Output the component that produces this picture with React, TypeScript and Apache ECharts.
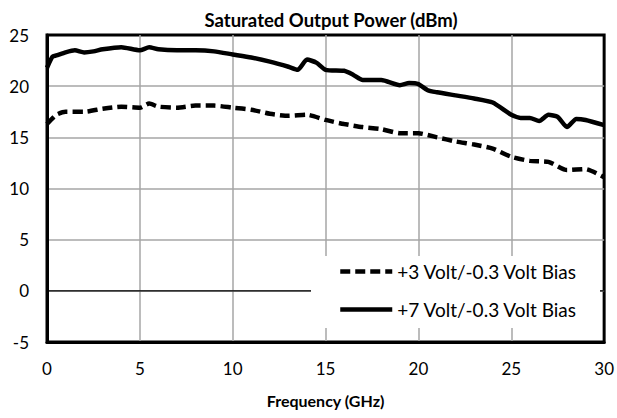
import React, { useEffect, useRef } from "react";
import * as echarts from "echarts";

const freq7 = [0, 0.3, 0.5, 1, 1.5, 2, 2.5, 3, 4, 5, 5.5, 6, 7, 8, 9, 10, 11, 12, 13, 13.5, 14, 14.5, 15, 16, 16.5, 17, 18, 19, 19.5, 20, 20.5, 21, 22, 23, 24, 25, 25.5, 26, 26.5, 27, 27.5, 28, 28.5, 29, 30];
const power7 = [21.8, 22.9, 23.0, 23.3, 23.5, 23.3, 23.4, 23.6, 23.8, 23.5, 23.8, 23.6, 23.5, 23.5, 23.4, 23.1, 22.8, 22.4, 21.9, 21.6, 22.6, 22.3, 21.6, 21.5, 21.1, 20.6, 20.6, 20.1, 20.3, 20.2, 19.6, 19.4, 19.1, 18.8, 18.4, 17.2, 16.9, 16.9, 16.6, 17.2, 17.0, 16.0, 16.8, 16.7, 16.2];

const freq3 = [0, 0.5, 1, 2, 3, 4, 5, 5.5, 6, 7, 8, 9, 10, 11, 12, 13, 14, 15, 16, 17, 18, 19, 20, 21, 22, 23, 24, 25, 26, 27, 28, 29, 30];
const power3 = [16.3, 17.2, 17.5, 17.5, 17.8, 18.0, 17.9, 18.3, 18.0, 17.9, 18.1, 18.1, 17.9, 17.7, 17.3, 17.1, 17.2, 16.7, 16.3, 16.0, 15.8, 15.4, 15.4, 15.0, 14.6, 14.3, 13.9, 13.1, 12.7, 12.6, 11.8, 11.9, 11.1];

const zeroLine = [[0, 0], [30, 0]];

const seriesNames = ["+3 Volt/-0.3 Volt Bias", "+7 Volt/-0.3 Volt Bias"];
const titleText = "Saturated Output Power (dBm)";
const xName = "Frequency (GHz)";

const FONT = "Lato, 'Open Sans', sans-serif";

export default function App() {
  const ref = useRef<HTMLDivElement>(null);
  useEffect(() => {
    if (!ref.current) return;
    const chart = echarts.init(ref.current, null, { renderer: "svg" });
    const pair = (xs: number[], ys: number[]) => xs.map((x, i) => [x, ys[i]]);
    chart.setOption({
      animation: false,
      textStyle: { fontFamily: FONT },
      title: {
        text: titleText,
        left: 326,
        top: 5,
        textAlign: "center",
        textStyle: { fontFamily: FONT, fontWeight: "bold", fontSize: 18.5, color: "#000" },
      },
      grid: {
        left: 47,
        right: 12,
        top: 35,
        bottom: 76,
        show: true,
        borderColor: "#000",
        borderWidth: 3,
        backgroundColor: "#fff",
      },
      xAxis: {
        type: "value",
        min: 0,
        max: 30,
        interval: 5,
        name: xName,
        nameLocation: "middle",
        nameGap: 50,
        nameTextStyle: { fontFamily: FONT, fontWeight: "bold", fontSize: 16, color: "#000" },
        axisLine: { show: true, onZero: false, lineStyle: { color: "#000", width: 3 } },
        axisTick: { show: false },
        axisLabel: { fontFamily: FONT, fontSize: 17, color: "#000", margin: 18 },
        splitLine: { show: true, showMinLine: false, showMaxLine: false, lineStyle: { color: "#a6a6a6", width: 1.5 } },
      },
      yAxis: {
        type: "value",
        min: -5,
        max: 25,
        interval: 5,
        axisLine: { show: true, onZero: false, lineStyle: { color: "#000", width: 3 } },
        axisTick: { show: false },
        axisLabel: { fontFamily: FONT, fontSize: 17, color: "#000", margin: 18 },
        splitLine: { show: true, showMinLine: false, showMaxLine: false, lineStyle: { color: "#a6a6a6", width: 1.5 } },
      },
      legend: {
        orient: "vertical",
        left: 333,
        top: 257,
        itemWidth: 52,
        itemHeight: 12,
        itemGap: 19,
        z: 20,
        itemStyle: { opacity: 0 },
        lineStyle: { width: 4.5 },
        textStyle: { fontFamily: FONT, fontSize: 19, color: "#000" },
        data: seriesNames,
      },
      graphic: [
        {
          type: "rect",
          z: 15,
          shape: { x: 311, y: 256, width: 289, height: 72 },
          style: { fill: "#fff" },
        },
      ],
      series: [
        {
          name: "zero",
          type: "line",
          data: zeroLine,
          symbol: "none",
          silent: true,
          lineStyle: { color: "#000", width: 1.2 },
          z: 1,
        },
        {
          name: seriesNames[0],
          type: "line",
          data: pair(freq3, power3),
          symbol: "none",
          smooth: 0.2,
          lineStyle: { color: "#000", width: 4.5, type: [10, 5] },
          itemStyle: { color: "#000" },
        },
        {
          name: seriesNames[1],
          type: "line",
          data: pair(freq7, power7),
          symbol: "none",
          smooth: 0.2,
          lineStyle: { color: "#000", width: 4.5 },
          itemStyle: { color: "#000" },
        },
      ],
    });
    return () => chart.dispose();
  }, []);
  return (
    <div
      ref={ref}
      style={{ position: "fixed", left: 0, top: 0, width: 617, height: 418, background: "#fff" }}
    />
  );
}
